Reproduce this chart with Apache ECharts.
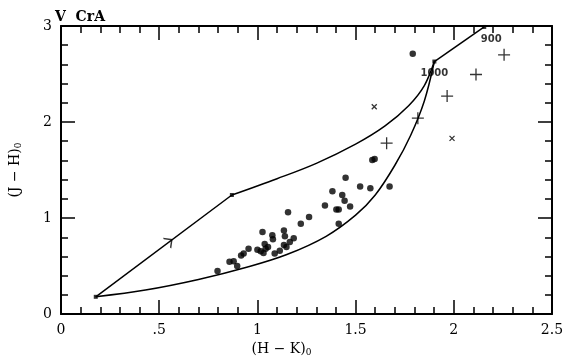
<!DOCTYPE html>
<html><head><meta charset="utf-8">
<script src="https://cdn.jsdelivr.net/npm/echarts@6/dist/echarts.min.js"></script>
<style>html,body{margin:0;padding:0;background:#fff}#c{width:570px;height:362px}</style>
</head><body><div id="c"></div>
<script>
// Data
const dotPoints = [
  [0.797,0.449],[0.858,0.544],[0.879,0.55],[0.897,0.50],[0.917,0.61],[0.930,0.63],
  [0.955,0.68],[1.000,0.67],[1.026,0.854],[1.017,0.655],[1.037,0.73],[1.042,0.68],
  [1.031,0.635],[1.054,0.70],[1.076,0.82],[1.079,0.78],[1.088,0.63],[1.114,0.66],
  [1.135,0.87],[1.14,0.81],[1.156,1.06],[1.135,0.72],[1.148,0.70],[1.165,0.75],
  [1.185,0.79],[1.221,0.94],[1.263,1.01],[1.344,1.13],[1.382,1.28],[1.402,1.09],
  [1.414,1.09],[1.414,0.94],[1.432,1.24],[1.444,1.18],[1.449,1.42],[1.472,1.12],
  [1.523,1.33],[1.575,1.31],[1.673,1.33],[1.585,1.605],[1.597,1.615],[1.791,2.71]
];
const plusPoints = [[1.658,1.78],[1.817,2.04],[1.966,2.27],[2.113,2.495],[2.256,2.70]];
const xMarkPoints = [[1.595,2.16],[1.991,1.83]];
const reddeningLine = [[0.177,0.18],[0.87,1.24]];
const reddeningArrow = [[0.552,0.757]];
const upperCurve = [[0.87,1.24],[1.1,1.41],[1.3,1.57],[1.5,1.77],[1.65,1.96],[1.77,2.17],[1.85,2.38],[1.901,2.63]];
const lowerCurve = [[0.177,0.18],[0.43,0.25],[0.7,0.36],[0.95,0.49],[1.15,0.62],[1.35,0.81],[1.5,1.03],[1.6,1.24],[1.7,1.55],[1.78,1.86],[1.85,2.22],[1.901,2.63]];
const tempSegment = [[1.901,2.63],[2.155,2.99]];
const vertexPoints = [[0.177,0.18],[0.87,1.24],[1.901,2.63],[2.155,2.99]];
const tempLabels = [{v:[1.901,2.63],t:'1000'},{v:[2.155,2.99],t:'900'}];
const xTicks = [0,0.5,1,1.5,2,2.5];
const xTickLabels = ['0','.5','1','1.5','2','2.5'];
const yTickLabels = ['0','1','2','3'];

const FONT = 'DejaVu Serif';
const chart = echarts.init(document.getElementById('c'), null, {renderer:'canvas'});

function xAx(pos, show) {
  return {
    type:'value', position:pos, min:0, max:2.5, interval:0.5,
    axisLine:{show:true, onZero:false, lineStyle:{color:'#000', width:2}},
    axisTick:{show:true, inside:true, length:14, lineStyle:{color:'#000', width:1.5}},
    minorTick:{show:true, splitNumber:5, length:7, lineStyle:{color:'#000', width:1.5}},
    splitLine:{show:false}, minorSplitLine:{show:false},
    axisLabel:{show:show, color:'#000', fontFamily:FONT, fontSize:14, margin:9,
      formatter:function(v){const i = xTicks.findIndex(t=>Math.abs(t-v)<1e-6); return i>=0?xTickLabels[i]:'';}},
    name: show ? '(H \u2212 K){s|0}' : '',
    nameLocation:'middle', nameGap:22,
    nameTextStyle:{color:'#000', fontFamily:FONT, fontSize:14, padding:[0,50,0,0],
      rich:{s:{fontFamily:FONT, fontSize:9, padding:[7,0,0,0], color:'#000'}}}
  };
}
function yAx(pos, show) {
  return {
    type:'value', position:pos, min:0, max:3, interval:1,
    axisLine:{show:true, onZero:false, lineStyle:{color:'#000', width:2}},
    axisTick:{show:true, inside:true, length:14, lineStyle:{color:'#000', width:1.5}},
    minorTick:{show:true, splitNumber:5, length:7, lineStyle:{color:'#000', width:1.5}},
    splitLine:{show:false}, minorSplitLine:{show:false},
    axisLabel:{show:show, color:'#000', fontFamily:FONT, fontSize:14, margin:9,
      formatter:function(v){return yTickLabels[Math.round(v)];}},
    name: show ? '(J \u2212 H){s|0}' : '',
    nameLocation:'middle', nameGap:38, nameRotate:90,
    nameTextStyle:{color:'#000', fontFamily:FONT, fontSize:14,
      rich:{s:{fontFamily:FONT, fontSize:9, padding:[7,0,0,0], color:'#000'}}}
  };
}

const lineStyle = {color:'#000', width:1.5};
const option = {
  animation:false,
  backgroundColor:'#fff',
  title:{text:'V  CrA', left:50, top:5, textStyle:{fontFamily:FONT, fontWeight:'bold', fontSize:14, color:'#000'}},
  grid:{left:54, right:18, top:26, bottom:40},
  xAxis:[xAx('bottom', true), xAx('top', false)],
  yAxis:[yAx('left', true), yAx('right', false)],
  series:[
    {type:'line', data:reddeningLine, symbol:'none', lineStyle:lineStyle, z:3},
    {type:'line', data:upperCurve, symbol:'none', smooth:0.35, lineStyle:lineStyle, z:3},
    {type:'line', data:lowerCurve, symbol:'none', smooth:0.35, lineStyle:lineStyle, z:3},
    {type:'line', data:tempSegment, symbol:'none', lineStyle:lineStyle, z:3},
    {type:'scatter', data:vertexPoints, symbol:'rect', symbolSize:4, itemStyle:{color:'#000'}, z:4},
    {type:'scatter', data:reddeningArrow, symbol:'path://M0,10 L5,0 L10,10', symbolSize:[12,6], symbolRotate:-53,
      itemStyle:{color:'rgba(0,0,0,0)', borderColor:'#000', borderWidth:1.3}, z:4},
    {type:'scatter', data:dotPoints, symbol:'circle', symbolSize:6.5, itemStyle:{color:'#000'}, z:5},
    {type:'scatter', data:plusPoints, symbol:'path://M5,0 L5,10 M0,5 L10,5', symbolSize:12,
      itemStyle:{color:'rgba(0,0,0,0)', borderColor:'#000', borderWidth:1.3}, z:5},
    {type:'scatter', data:xMarkPoints, symbol:'path://M0,0 L10,10 M10,0 L0,10', symbolSize:5,
      itemStyle:{color:'rgba(0,0,0,0)', borderColor:'#000', borderWidth:1.3}, z:5},
    {type:'scatter', data:tempLabels.map(d=>({value:d.v, name:d.t})), symbolSize:0,
      label:{show:true, formatter:'{b}', color:'#000', fontFamily:'DejaVu Sans', fontWeight:'bold', fontSize:10,
        position:'bottom', distance:7},
      labelLayout:function(p){ return p.dataIndex===1 ? {dx:7, dy:0} : {dx:0, dy:0}; }, z:6}
  ]
};
chart.setOption(option);
</script>
</body></html>
